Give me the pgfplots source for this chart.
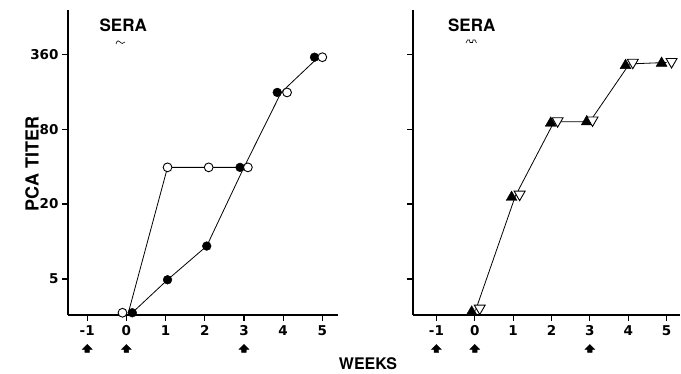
\documentclass[border=0pt]{standalone}
\usepackage{pgfplots}
\pgfplotsset{compat=1.18}
\usepackage{fontspec}
\setmainfont{TeX Gyre Heros}
\newfontfamily\tickfont{DejaVu Sans}
\newcommand\tl[1]{{\tickfont\bfseries\fontsize{13.5}{14}\selectfont #1}}

\pgfdeclareplotmark{houseup}{%
  \pgfpathmoveto{\pgfpoint{0pt}{4.5pt}}%
  \pgfpathlineto{\pgfpoint{5pt}{-0.5pt}}%
  \pgfpathlineto{\pgfpoint{2.3pt}{-0.5pt}}%
  \pgfpathlineto{\pgfpoint{2.3pt}{-3.5pt}}%
  \pgfpathlineto{\pgfpoint{-2.3pt}{-3.5pt}}%
  \pgfpathlineto{\pgfpoint{-2.3pt}{-0.5pt}}%
  \pgfpathlineto{\pgfpoint{-5pt}{-0.5pt}}%
  \pgfpathclose
  \pgfusepathqfillstroke}

\pgfplotsset{panel/.style={
  scale only axis, height=305pt,
  axis x line=bottom, axis y line=left,
  axis line style={-, line width=1.6pt},
  ymin=0.52, ymax=4.59,
  ytick={1,2,3,4},
  xtick={-1,0,1,2,3,4,5},
  xticklabels={\tl{-1},\tl{0},\tl{1},\tl{2},\tl{3},\tl{4},\tl{5}},
  tick style={line width=1.2pt, black},
  tick align=outside, major tick length=6pt,
  xticklabel style={yshift=-1pt},
  /pgf/number format/assume math mode=true,
  clip=false,
}}

\begin{document}
\begin{tikzpicture}
\useasboundingbox (0,0) rectangle (681pt,374pt);

% left panel
\begin{axis}[panel, at={(68pt,59pt)}, anchor=south west, width=270pt,
  xmin=-1.49, xmax=5.4, yticklabels={\tl{5},\tl{20},\tl{80},\tl{360}}]
% connecting lines
\addplot[black, line width=0.8pt, no marks]
  coordinates {(0.05,0.55) (1.05,2.49) (3.0,2.49)};
\addplot[black, line width=0.8pt, no marks]
  coordinates {(0.15,0.55) (1.05,0.99) (2.05,1.44) (3.0,2.49) (3.95,3.49) (4.9,3.96)};
% filled circles
\addplot[only marks, black, mark=*, mark size=4.4pt]
  coordinates {(0.15,0.55) (1.05,0.99) (2.05,1.44) (2.9,2.49) (3.85,3.49) (4.8,3.96)};
% open circles
\addplot[only marks, black, line width=0.9pt, mark=*, mark size=4.4pt, mark options={fill=white}]
  coordinates {(-0.1,0.55) (1.05,2.49) (2.1,2.49) (3.1,2.49) (4.1,3.49) (5.0,3.96)};
\addplot[only marks, mark=houseup, black, fill=black]
  coordinates {(-1,0.067) (0,0.067) (3,0.067)};
\node[font=\fontsize{17}{17}\selectfont\bfseries] at (axis cs:-0.08,4.39) {SERA};
\end{axis}

% right panel
\begin{axis}[panel, at={(413pt,59pt)}, anchor=south west, width=267pt,
  xmin=-1.61, xmax=5.35, yticklabels={}]
\addplot[black, line width=0.8pt, no marks]
  coordinates {(0.02,0.58) (1.06,2.11) (2.07,3.1) (3.0,3.1) (4.03,3.87) (5.0,3.89)};
\addplot[only marks, black, mark=triangle*, mark size=6.3pt]
  coordinates {(-0.08,0.56) (0.96,2.09) (1.98,3.08) (2.92,3.1) (3.93,3.85) (4.87,3.88)};
\addplot[only marks, black, line width=0.9pt, mark=triangle*, mark size=6.3pt, mark options={fill=white, rotate=180}]
  coordinates {(0.13,0.61) (1.17,2.13) (2.16,3.11) (3.07,3.12) (4.12,3.89) (5.13,3.9)};
\addplot[only marks, mark=houseup, black, fill=black]
  coordinates {(-1,0.067) (0,0.067) (3,0.067)};
\node[font=\fontsize{17}{17}\selectfont\bfseries] at (axis cs:-0.08,4.39) {SERA};
\end{axis}

% small squiggles under SERA
\draw[line width=0.6pt] (116pt,330pt) .. controls (117pt,334pt) and (119pt,334pt) .. (120pt,332pt)
  .. controls (121pt,330pt) and (123pt,330pt) .. (125pt,332pt);
\draw[line width=0.6pt] (466pt,331pt) -- (467.5pt,334pt) -- (469.5pt,334pt) -- (470pt,331.5pt)
  -- (472.5pt,331.5pt) -- (473pt,334pt) -- (475pt,334pt) -- (476.5pt,331pt);

\node[font=\fontsize{16}{16}\selectfont\bfseries] at (368pt,10pt) {WEEKS};
\node[font=\fontsize{18}{18}\selectfont\bfseries, rotate=90] at (32pt,210pt) {PCA TITER};
\end{tikzpicture}
\end{document}
